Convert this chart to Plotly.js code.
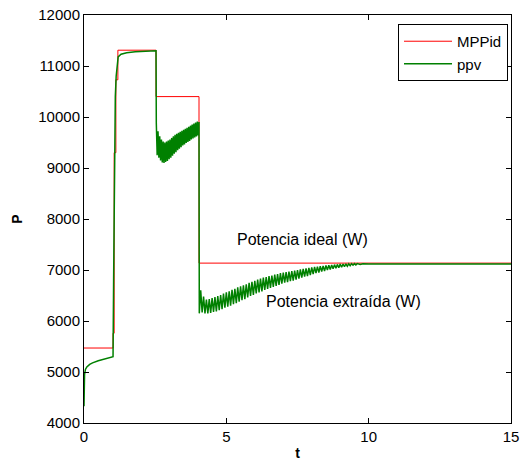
<!DOCTYPE html>
<html><head><meta charset="utf-8">
<script src="https://cdn.plot.ly/plotly-3.0.1.min.js"></script>
<style>html,body{margin:0;padding:0;background:#fff}#chart{width:528px;height:461px}</style>
</head><body><div id="chart"></div>
<script>
// Ideal MPP power (step profile)
const tIdeal = [0, 1.02, 1.02, 1.06, 1.06, 1.12, 1.12, 1.19, 1.19, 2.53, 2.53, 4.04, 4.04, 15];
const pIdeal = [5470, 5470, 5760, 5760, 9300, 9300, 10730, 10730, 11310, 11310, 10400, 10400, 7135, 7135];

// Extracted PV power
const tPpv = [0, 0.005, 0.02, 0.05, 0.1, 0.2, 0.3, 0.5, 0.7, 0.9, 1.02,
  1.04, 1.07, 1.1, 1.13, 1.17, 1.2, 1.3, 1.5, 1.8, 2.1, 2.53,
  2.54, 2.57, 2.60, 2.63, 2.66, 2.69, 2.72, 2.75, 2.78, 2.81, 2.84, 2.87, 2.90, 2.93, 2.96, 2.99,
  3.02, 3.05, 3.08, 3.11, 3.14, 3.17, 3.20, 3.23, 3.26, 3.29, 3.32, 3.35, 3.38, 3.41, 3.44, 3.47,
  3.50, 3.53, 3.56, 3.59, 3.62, 3.65, 3.68, 3.71, 3.74, 3.77, 3.80, 3.83, 3.86, 3.89, 3.92, 3.95,
  3.98, 4.01, 4.04,
  4.05, 4.10, 4.15, 4.20, 4.25, 4.30, 4.35, 4.40, 4.45, 4.50, 4.55, 4.60, 4.65, 4.70, 4.75, 4.80, 4.85, 4.90, 4.95,
  5.00, 5.05, 5.10, 5.15, 5.20, 5.25, 5.30, 5.35, 5.40, 5.45, 5.50, 5.55, 5.60, 5.65, 5.70, 5.75, 5.80, 5.85, 5.90, 5.95,
  6.00, 6.05, 6.10, 6.15, 6.20, 6.25, 6.30, 6.35, 6.40, 6.45, 6.50, 6.55, 6.60, 6.65, 6.70, 6.75, 6.80, 6.85, 6.90, 6.95,
  7.00, 7.05, 7.10, 7.15, 7.20, 7.25, 7.30, 7.35, 7.40, 7.45, 7.50, 7.55, 7.60, 7.65, 7.70, 7.75, 7.80, 7.85, 7.90, 7.95,
  8.00, 8.05, 8.10, 8.15, 8.20, 8.25, 8.30, 8.35, 8.40, 8.45, 8.50, 8.55, 8.60, 8.65, 8.70, 8.75, 8.80, 8.85, 8.90, 8.95,
  9.00, 9.05, 9.10, 9.15, 9.20, 9.25, 9.30, 9.35, 9.40, 9.45, 9.50, 9.55, 9.60, 9.70, 9.80, 10.0, 15];
const pPpv = [4330, 4700, 4950, 5050, 5100, 5150, 5180, 5220, 5250, 5280, 5300,
  6800, 9300, 10400, 10800, 11100, 11180, 11230, 11260, 11280, 11290, 11300,
  9880, 9250, 9720, 9200, 9620, 9150, 9560, 9110, 9520, 9100, 9500, 9120, 9520, 9140, 9540, 9170,
  9560, 9200, 9590, 9240, 9620, 9280, 9650, 9310, 9670, 9350, 9690, 9380, 9710, 9410, 9730, 9440,
  9750, 9460, 9770, 9490, 9790, 9510, 9810, 9530, 9830, 9560, 9850, 9580, 9870, 9600, 9890, 9620,
  9910, 9640, 9900,
  6150, 6600, 6170, 6480, 6150, 6420, 6150, 6430, 6160, 6450, 6180, 6470, 6190, 6490, 6210, 6510, 6230, 6540, 6260,
  6560, 6280, 6580, 6300, 6610, 6330, 6630, 6350, 6660, 6380, 6680, 6410, 6700, 6430, 6720, 6460, 6750, 6490, 6770, 6510,
  6790, 6540, 6810, 6560, 6830, 6580, 6850, 6610, 6860, 6630, 6880, 6650, 6890, 6670, 6910, 6690, 6920, 6710, 6940, 6730,
  6950, 6750, 6960, 6760, 6970, 6780, 6980, 6790, 6990, 6810, 7000, 6830, 7010, 6850, 7020, 6870, 7030, 6880, 7040, 6900,
  7050, 6920, 7060, 6940, 7065, 6950, 7075, 6970, 7080, 6980, 7090, 7000, 7095, 7010, 7100, 7025, 7105, 7035, 7110, 7045,
  7115, 7055, 7118, 7065, 7120, 7075, 7122, 7085, 7124, 7095, 7125, 7100, 7125, 7110, 7122, 7118, 7120];

const xTicks = [0, 5, 10, 15];
const yTicks = [4000, 5000, 6000, 7000, 8000, 9000, 10000, 11000, 12000];
const labelIdeal = "Potencia ideal (W)";
const labelExtr = "Potencia extraída (W)";

const font = "Liberation Sans, Arial, Helvetica, sans-serif";

const data = [
  {x: tIdeal, y: pIdeal, type: 'scatter', mode: 'lines', name: 'MPPid',
   line: {color: '#ff0000', width: 1}},
  {x: tPpv, y: pPpv, type: 'scatter', mode: 'lines', name: 'ppv',
   line: {color: '#008000', width: 1.5}}
];

const layout = {
  width: 528, height: 461,
  margin: {l: 84, r: 17, t: 15, b: 38},
  paper_bgcolor: '#fff', plot_bgcolor: '#fff',
  font: {family: font, size: 15, color: '#000'},
  showlegend: true,
  legend: {x: 0.993, y: 0.978, xanchor: 'right', yanchor: 'top', itemwidth: 48,
    bordercolor: '#000', borderwidth: 1, bgcolor: '#fff',
    font: {family: font, size: 15, color: '#000'}, tracegroupgap: 0},
  xaxis: {range: [0, 15], tickvals: xTicks, ticktext: xTicks.map(String),
    ticks: 'inside', ticklen: 5, tickcolor: '#000', showline: true, linecolor: '#000', linewidth: 1,
    mirror: 'ticks', showgrid: false, zeroline: false, automargin: false,
    tickfont: {size: 15},
    title: {text: '<b>t</b>', font: {size: 14}, standoff: 6}},
  yaxis: {range: [4000, 12000], tickvals: yTicks, ticktext: yTicks.map(String),
    ticks: 'inside', ticklen: 5, tickcolor: '#000', showline: true, linecolor: '#000', linewidth: 1,
    mirror: 'ticks', showgrid: false, zeroline: false, automargin: false,
    tickfont: {size: 15},
    title: {text: '<b>P</b>', font: {size: 14}, standoff: 12}},
  annotations: [
    {x: 7.67, y: 7591, xref: 'x', yref: 'y', text: labelIdeal, showarrow: false,
     font: {family: font, size: 16, color: '#000'}},
    {x: 9.11, y: 6382, xref: 'x', yref: 'y', text: labelExtr, showarrow: false,
     font: {family: font, size: 16, color: '#000'}}
  ]
};

Plotly.newPlot('chart', data, layout, {displayModeBar: false, staticPlot: true});
</script></body></html>
